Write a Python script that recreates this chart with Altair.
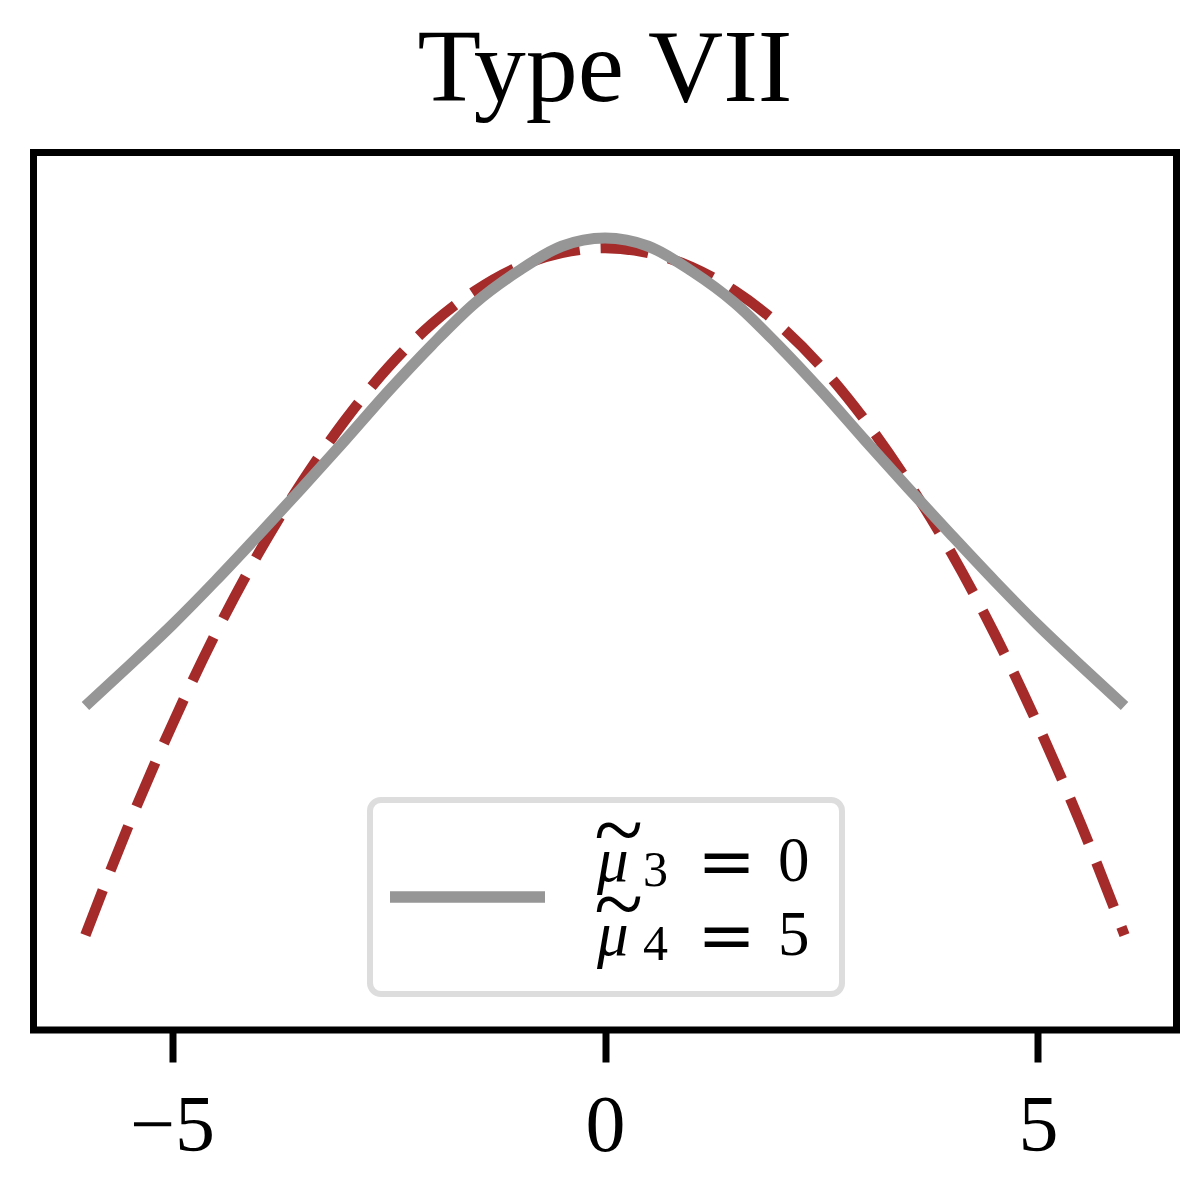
import altair as alt
import pandas as pd

# ---- data (x, log-density-like values) ----
x_vals = [-6.0, -5.5, -5.0, -4.5, -4.0, -3.5, -3.0, -2.5, -2.0, -1.5, -1.0, -0.5,
          0.0, 0.5, 1.0, 1.5, 2.0, 2.5, 3.0, 3.5, 4.0, 4.5, 5.0, 5.5, 6.0]
gray_vals = [-7.892, -7.310, -6.713, -6.073, -5.403, -4.719, -4.020, -3.307, -2.638,
             -2.026, -1.560, -1.200, -1.080, -1.200, -1.560, -2.026, -2.638, -3.307,
             -4.020, -4.719, -5.403, -6.073, -6.713, -7.310, -7.892]
red_vals = [-11.226, -9.624, -8.169, -6.844, -5.665, -4.632, -3.729, -2.958, -2.332,
            -1.851, -1.502, -1.298, -1.226, -1.298, -1.502, -1.851, -2.332, -2.958,
            -3.729, -4.632, -5.665, -6.844, -8.169, -9.624, -11.226]
x_ticks = [-5, 0, 5]
title_text = "Type VII"
legend_mu = "μ"
legend_subs = ["3", "4"]
legend_vals = ["0", "5"]

SERIF = "Liberation Serif"
GRAY = "#969696"
RED = "#a52a2a"

df_gray = pd.DataFrame({"x": x_vals, "y": gray_vals})
df_red = pd.DataFrame({"x": x_vals, "y": red_vals})

xscale = alt.Scale(domain=[-6.6, 6.6], nice=False, zero=False)
yscale = alt.Scale(domain=[-12.608, 0.1645], nice=False, zero=False)

xaxis = alt.Axis(values=x_ticks, title=None, grid=False, domain=False,
                 tickSize=32, tickWidth=7, tickColor="black", tickCap="butt",
                 labelFont=SERIF, labelFontSize=80, labelPadding=25,
                 labelColor="black", labelFlush=False, labelOverlap=False, format="d")

red = alt.Chart(df_red).mark_line(
    color=RED, strokeWidth=10.5, strokeDash=[48, 21], strokeCap="butt",
    interpolate="monotone"
).encode(
    x=alt.X("x:Q", scale=xscale, axis=xaxis),
    y=alt.Y("y:Q", scale=yscale, axis=None),
)

gray = alt.Chart(df_gray).mark_line(
    color=GRAY, strokeWidth=11, strokeCap="butt", interpolate="monotone"
).encode(
    x=alt.X("x:Q", scale=xscale, axis=xaxis),
    y=alt.Y("y:Q", scale=yscale, axis=None),
)

one = alt.Data(values=[{}])

legend_box = alt.Chart(one).mark_rect(
    fill="white", stroke="#dddddd", strokeWidth=6, cornerRadius=11
).encode(x=alt.value(336.5), x2=alt.value(808.5), y=alt.value(647.5), y2=alt.value(841.5))

legend_line = alt.Chart(one).mark_rule(
    color=GRAY, strokeWidth=11.5, strokeCap="butt"
).encode(x=alt.value(356.5), x2=alt.value(511.5), y=alt.value(744.5))


def txt(text, x, y, size, italic=False, align="left", baseline="alphabetic", font=SERIF):
    return alt.Chart(one).mark_text(
        text=text, font=font, fontSize=size,
        fontStyle="italic" if italic else "normal",
        align=align, baseline=baseline, color="black"
    ).encode(x=alt.value(x), y=alt.value(y))


layers = [red, gray, legend_box, legend_line]
for i, base in enumerate([728.5, 802.5]):
    layers.append(txt(legend_mu, 563.5, base, 63, italic=True))
    layers.append(txt("~", 585, base - 48.5, 90, align="center", baseline="middle"))
    layers.append(txt(legend_subs[i], 609.5, base + 5, 50))
    layers.append(txt("=", 693, base + 4, 70, align="center", font="DejaVu Serif"))
    layers.append(txt(legend_vals[i], 744.5, base, 63))

chart = alt.layer(*layers).properties(
    width=1143, height=877.5,
    padding={"left": 25.5, "top": 144.5, "right": 10, "bottom": 140},
    autosize=alt.AutoSizeParams(type="none"),
    background="white",
    title=alt.TitleParams(title_text, font=SERIF, fontSize=104, fontWeight="normal",
                          color="black", anchor="middle", baseline="alphabetic",
                          offset=-52.5),
).configure_view(stroke="black", strokeWidth=7)

chart.save("out.html", embed_options={"renderer": "svg", "actions": False})
